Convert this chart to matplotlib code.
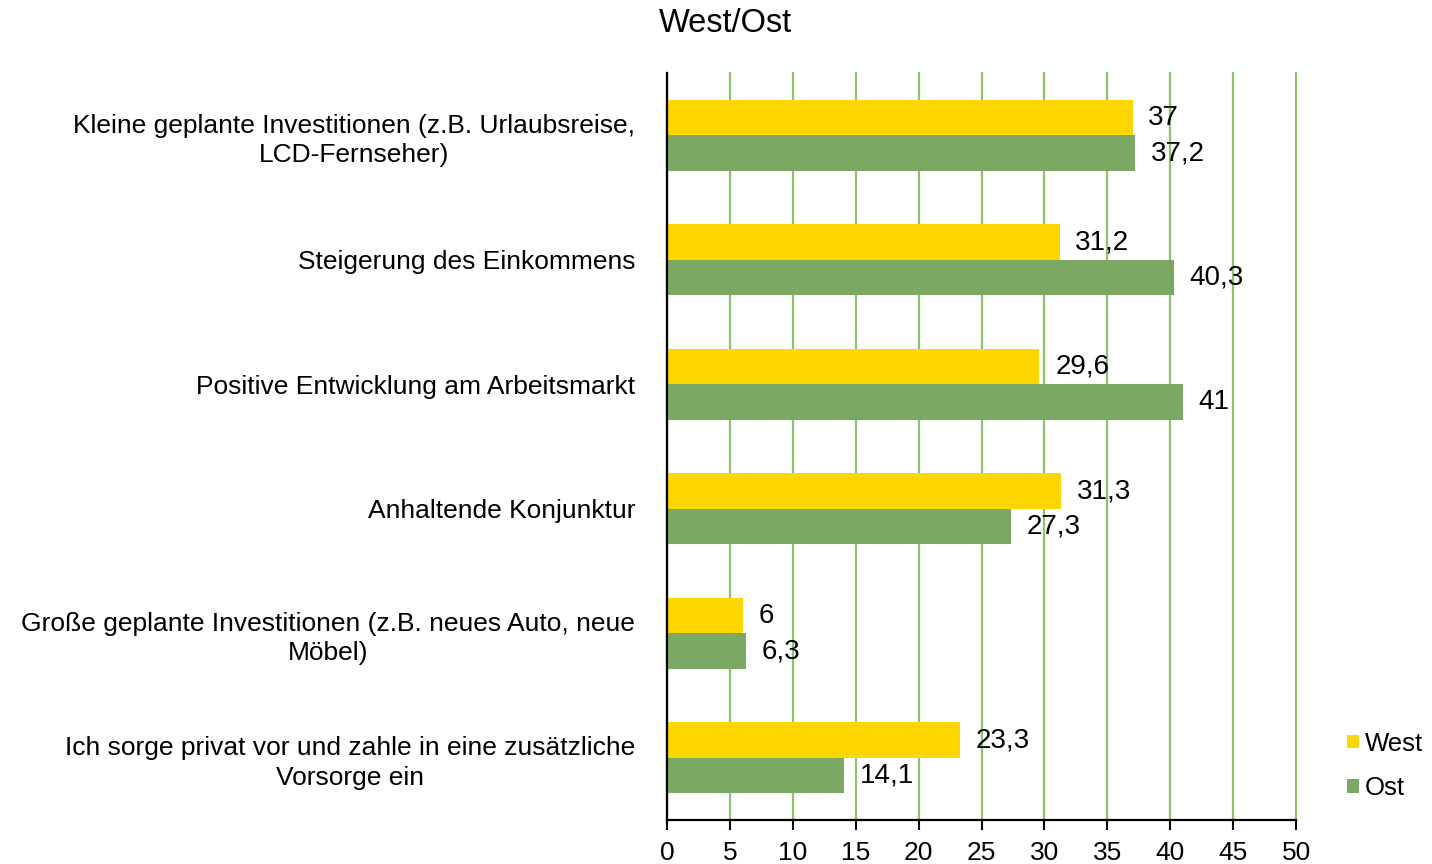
import matplotlib.pyplot as plt
import numpy as np
from matplotlib.patches import Patch

plt.rcParams['font.family'] = ['Liberation Sans', 'DejaVu Sans']

# data
categories = [
    'Kleine geplante Investitionen (z.B. Urlaubsreise,\nLCD-Fernseher)',
    'Steigerung des Einkommens',
    'Positive Entwicklung am Arbeitsmarkt',
    'Anhaltende Konjunktur',
    'Große geplante Investitionen (z.B. neues Auto, neue\nMöbel)',
    'Ich sorge privat vor und zahle in eine zusätzliche\nVorsorge ein',
]
west = [37, 31.2, 29.6, 31.3, 6, 23.3]
ost = [37.2, 40.3, 41, 27.3, 6.3, 14.1]
series_names = ['West', 'Ost']

yellow = '#FFD700'
green = '#7BA863'
grid_green = '#8DC36D'

fig = plt.figure(figsize=(14.32, 8.64), dpi=100)
ax = fig.add_axes([0.4658, 0.0509, 0.4393, 0.8646])

y = np.arange(len(categories))
h = 0.285

bars_w = ax.barh(y - h / 2, west, height=h, color=yellow, zorder=3)
bars_o = ax.barh(y + h / 2, ost, height=h, color=green, zorder=3)

# value labels, German decimal comma
for bars, vals in [(bars_w, west), (bars_o, ost)]:
    for b, v in zip(bars, vals):
        txt = ('%g' % v).replace('.', ',')
        ax.text(v + 1.25, b.get_y() + b.get_height() / 2, txt,
                va='center', ha='left', fontsize=20, zorder=4)

ax.set_xlim(0, 50)
ax.set_ylim(len(categories) - 0.5, -0.5)
ax.set_xticks(np.arange(0, 51, 5))
ax.set_yticks(y)
ax.set_yticklabels(categories, fontsize=19)
for lbl in ax.get_yticklabels():
    lbl.set_multialignment('center')
    lbl.set_linespacing(1.3)

ax.tick_params(axis='y', length=0, pad=23)
ax.tick_params(axis='x', length=7, width=1.5, labelsize=19, pad=8, direction='out')

# vertical grid lines
ax.xaxis.grid(True, color=grid_green, linewidth=1.6, zorder=0)
ax.set_axisbelow(True)
for gl in ax.get_xgridlines():
    gl.set_clip_on(False)

for s in ['top', 'right']:
    ax.spines[s].set_visible(False)
ax.spines['left'].set_linewidth(1.6)
ax.spines['bottom'].set_linewidth(1.6)
ax.spines['left'].set_zorder(5)

fig.text(659 / 1432, 1 - 23 / 864, 'West/Ost', fontsize=23.5, ha='left', va='center')

handles = [Patch(facecolor=yellow), Patch(facecolor=green)]
fig.legend(handles, series_names, loc='center left',
           bbox_to_anchor=(1347 / 1432, 1 - 766 / 864), frameon=False,
           borderaxespad=0, borderpad=0,
           fontsize=18.5, handlelength=0.45, handleheight=0.45,
           handletextpad=0.25, labelspacing=0.8)

fig.savefig('out.png', dpi=100)
